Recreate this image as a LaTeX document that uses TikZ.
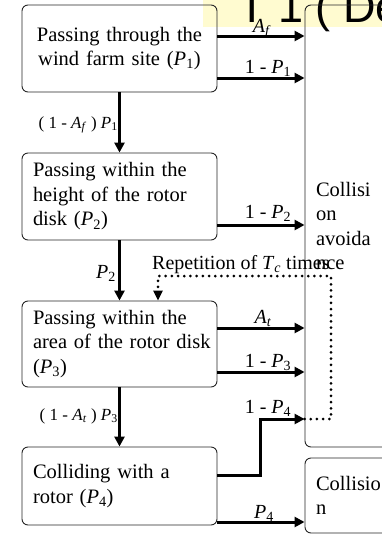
\documentclass[tikz,border=0pt]{standalone}
\usepackage{fontspec}
\setmainfont{Liberation Serif}
\newfontfamily\titlefont{Liberation Sans}
\usetikzlibrary{arrows.meta}
\newcommand{\Pv}[1]{\textit{P}\textsubscript{#1}}
\newcommand{\Iv}[2]{\textit{#1}\textsubscript{\textit{#2}}}
\definecolor{bandyellow}{RGB}{255,251,208}
\begin{document}
\begin{tikzpicture}[x=1pt,y=-1pt,
  box/.style={draw=black!85, line width=0.9pt, rounded corners=6pt,
    inner xsep=11pt, inner ysep=0pt, font=\fontsize{20.5}{24.5}\selectfont},
  lbox/.style={box, minimum width=195pt, text width=173pt, align=left},
  rbox/.style={box, minimum width=110pt, text width=88pt, align=left},
  bigarrow/.style={line width=3pt, -{Triangle[length=10pt,width=10pt]}},
  dotline/.style={line width=3pt, dash pattern=on 0pt off 6.2pt, line cap=round,
    -{Triangle[length=10pt,width=9pt]}},
  lab/.style={font=\fontsize{20}{24}\selectfont, inner sep=0pt, anchor=base},
  slab/.style={font=\fontsize{17}{20}\selectfont, inner sep=0pt, anchor=base east}]
\useasboundingbox (0,0) rectangle (382,539);
\clip (0,0) rectangle (382,539);
% title band
\fill[bandyellow] (203,0) rectangle (382,27);
\node[font=\titlefont\fontsize{45}{45}\selectfont, anchor=base west, inner sep=0pt]
  (title) at (238,22) {T 1 ( De};
% boxes
\node[lbox, align=center, minimum height=87pt] (b1) at (119.5,48.5)
  {Passing through the\\wind farm site (\Pv{1})};
\node[lbox, minimum height=87pt] (b2) at (119.5,196.5)
  {Passing within the\\height of the rotor\\disk (\Pv{2})};
\node[lbox, minimum height=86pt] (b3) at (119.5,344)
  {Passing within the\\\mbox{area of the rotor disk}\\(\Pv{3})};
\node[lbox, minimum height=78pt] (b4) at (119.5,486)
  {Colliding with a\\rotor (\Pv{4})};
\node[rbox, minimum height=442pt] (avoid) at (360,226)
  {Collisi\\on\\avoida\\nce};
\node[rbox, minimum height=75pt] (coll) at (360,495.5)
  {Collisio\\n};
% helper coordinates
\coordinate (yAf) at (0,36);
\coordinate (yP1) at (0,78);
\coordinate (yP2) at (0,225);
\coordinate (yAt) at (0,328);
\coordinate (yP3) at (0,372);
\coordinate (yP4a) at (0,475);
\coordinate (yP4) at (0,419);
\coordinate (yPP4) at (0,522);
\coordinate (k1) at (260,475);
\coordinate (k2) at (260,419);
\coordinate (d1) at (331,419);
\coordinate (d2) at (331,276);
\coordinate (d3) at (158,276);
% arrows
\draw[bigarrow] (b1.east |- yAf) -- (avoid.west |- yAf);
\draw[bigarrow] (b1.east |- yP1) -- (avoid.west |- yP1);
\draw[bigarrow] (b1.south) -- (b2.north);
\draw[bigarrow] (b2.east |- yP2) -- (avoid.west |- yP2);
\draw[bigarrow] (b2.south) -- (b3.north);
\draw[bigarrow] (b3.east |- yAt) -- (avoid.west |- yAt);
\draw[bigarrow] (b3.east |- yP3) -- (avoid.west |- yP3);
\draw[bigarrow] (b3.south) -- (b4.north);
\draw[bigarrow] (b4.east |- yP4a) -- (k1) -- (k2) -- (avoid.west |- yP4);
\draw[bigarrow] (b4.east |- yPP4) -- (coll.west |- yPP4);
% repetition loop
\draw[dotline] (avoid.west |- yP4) -- (d1) -- (d2) -- (d3) -- (d3 |- b3.north);
% labels
\node[lab] (lAf) at (262,32) {\Iv{A}{f}};
\node[lab] (lP1) at (268,73) {1 - \Pv{1}};
\node[slab] (lAfP1) at (118,128) {( 1 - \Iv{A}{f} ) \Pv{1}};
\node[lab] (lP2) at (268,218) {1 - \Pv{2}};
\node[lab, anchor=base east] (lPP2) at (116,278) {\Pv{2}};
\node[lab, anchor=base west] (lrep) at (152,269) {Repetition of \Iv{T}{c} times};
\node[lab] (lAt) at (263,323) {\Iv{A}{t}};
\node[lab] (lP3) at (268,367) {1 - \Pv{3}};
\node[slab] (lAtP3) at (118,420) {( 1 - \Iv{A}{t} ) \Pv{3}};
\node[lab] (lP4) at (268,413) {1 - \Pv{4}};
\node[lab] (lPP4) at (264,518) {\Pv{4}};
\end{tikzpicture}
\end{document}
